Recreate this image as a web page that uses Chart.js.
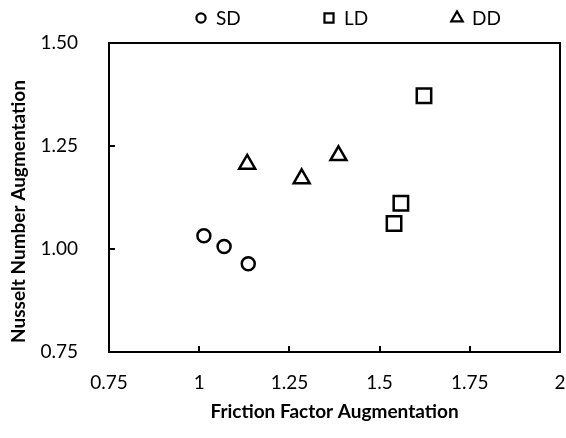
<!DOCTYPE html>
<html><head><meta charset="utf-8">
<script src="https://cdn.jsdelivr.net/npm/chart.js@4/dist/chart.umd.min.js"></script>
<style>html,body{margin:0;padding:0;background:#fff}#wrap{width:566px;height:438px;position:relative}</style>
</head><body><div id="wrap"><canvas id="c" width="566" height="438"></canvas></div>
<script>
// ---- data ----
const seriesNames = ['SD', 'LD', 'DD'];
const sdX = [1.013, 1.069, 1.136];
const sdY = [1.032, 1.006, 0.964];
const ldX = [1.540, 1.559, 1.623];
const ldY = [1.062, 1.111, 1.372];
const ddX = [1.133, 1.284, 1.386];
const ddY = [1.206, 1.171, 1.227];
const xTickValues = [0.75, 1, 1.25, 1.5, 1.75, 2];
const xTickLabels = ['0.75', '1', '1.25', '1.5', '1.75', '2'];
const yTickValues = [0.75, 1.00, 1.25, 1.50];
const yTickLabels = ['0.75', '1.00', '1.25', '1.50'];
const xTitle = 'Friction Factor Augmentation';
const yTitle = 'Nusselt Number Augmentation';

const FONT = 'Lato, "Open Sans", "DejaVu Sans", sans-serif';
const pts = (xs, ys) => xs.map((x, i) => ({x: x, y: ys[i]}));
const styles = ['circle', 'rect', 'triangle'];
const radii = [6.5, 10.2, 9.2];
const legendRadii = [4.6, 6.4, 6.6];

const frameAndTicks = {
  id: 'frameAndTicks',
  beforeDatasetsDraw(chart) {
    const {ctx, chartArea: a, scales: {x, y}} = chart;
    ctx.save();
    ctx.strokeStyle = '#000';
    ctx.lineWidth = 2;
    ctx.beginPath();
    ctx.rect(a.left, a.top, a.right - a.left, a.bottom - a.top);
    ctx.stroke();
    ctx.beginPath();
    xTickValues.forEach(v => {
      const px = Math.round(x.getPixelForValue(v));
      ctx.moveTo(px, a.bottom); ctx.lineTo(px, a.bottom - 6);
    });
    yTickValues.forEach(v => {
      const py = Math.round(y.getPixelForValue(v));
      ctx.moveTo(a.left, py); ctx.lineTo(a.left + 6, py);
    });
    ctx.stroke();
    ctx.restore();
  }
};

const customLegendAndYTitle = {
  id: 'customLegendAndYTitle',
  afterDraw(chart) {
    const ctx = chart.ctx;
    const a = chart.chartArea;
    ctx.save();
    ctx.font = '19px ' + FONT;
    ctx.textBaseline = 'middle';
    ctx.textAlign = 'left';
    const y0 = 18;
    const start = a.left + 92, step = 128;
    chart.data.datasets.forEach((ds, i) => {
      const cx = start + i * step;
      ctx.strokeStyle = '#000';
      ctx.fillStyle = '#fff';
      ctx.lineWidth = 2.2;
      Chart.helpers.drawPoint(ctx, {pointStyle: styles[i], radius: legendRadii[i], borderWidth: 2.2, rotation: 0}, cx, y0);
      ctx.fillStyle = '#000';
      ctx.fillText(ds.label, cx + 15, y0 + 1);
    });
    // y axis title
    ctx.font = 'bold 19px ' + FONT;
    ctx.textAlign = 'center';
    ctx.translate(19, (a.top + a.bottom) / 2 + 14);
    ctx.rotate(-Math.PI / 2);
    ctx.fillText(yTitle, 0, 0);
    ctx.restore();
  }
};

const makeDs = (i, data) => ({
  label: seriesNames[i],
  data: data,
  pointStyle: styles[i],
  pointRadius: radii[i],
  pointHoverRadius: radii[i],
  pointBorderWidth: 2.5,
  borderColor: '#000',
  backgroundColor: '#fff',
  showLine: false
});

const noPadding = s => {
  s._calculatePadding = function () {
    this.paddingLeft = 0; this.paddingRight = 0; this.paddingTop = 0; this.paddingBottom = 0;
  };
};

Chart.defaults.font.family = FONT;
Chart.defaults.color = '#000';

new Chart(document.getElementById('c'), {
  type: 'scatter',
  data: {
    datasets: [makeDs(0, pts(sdX, sdY)), makeDs(1, pts(ldX, ldY)), makeDs(2, pts(ddX, ddY))]
  },
  options: {
    responsive: false,
    animation: false,
    devicePixelRatio: 1,
    layout: {autoPadding: false, padding: {top: 43, right: 6, left: 0, bottom: 0}},
    plugins: {legend: {display: false}, tooltip: {enabled: false}},
    scales: {
      x: {
        type: 'linear', position: 'bottom', min: 0.75, max: 2,
        beforeUpdate: noPadding,
        afterBuildTicks: s => { s.ticks = xTickValues.map(v => ({value: v})); },
        afterFit: s => { s.height = 86; s.paddingLeft = 0; s.paddingRight = 0; },
        grid: {display: false},
        border: {display: false},
        ticks: {callback: (v, i) => xTickLabels[i], font: {size: 19}, color: '#000', padding: 11, maxRotation: 0, autoSkip: false},
        title: {display: true, text: xTitle, font: {size: 19, weight: 'bold'}, color: '#000', padding: {top: 0, bottom: 15}}
      },
      y: {
        type: 'linear', position: 'left', min: 0.75, max: 1.5,
        beforeUpdate: noPadding,
        afterBuildTicks: s => { s.ticks = yTickValues.map(v => ({value: v})); },
        afterFit: s => { s.width = 109; s.paddingTop = 0; s.paddingBottom = 0; },
        grid: {display: false},
        border: {display: false},
        ticks: {callback: (v, i) => yTickLabels[i], font: {size: 19}, color: '#000', padding: 23, autoSkip: false},
        title: {display: false, text: yTitle}
      }
    }
  },
  plugins: [frameAndTicks, customLegendAndYTitle]
});
</script>
</body></html>
